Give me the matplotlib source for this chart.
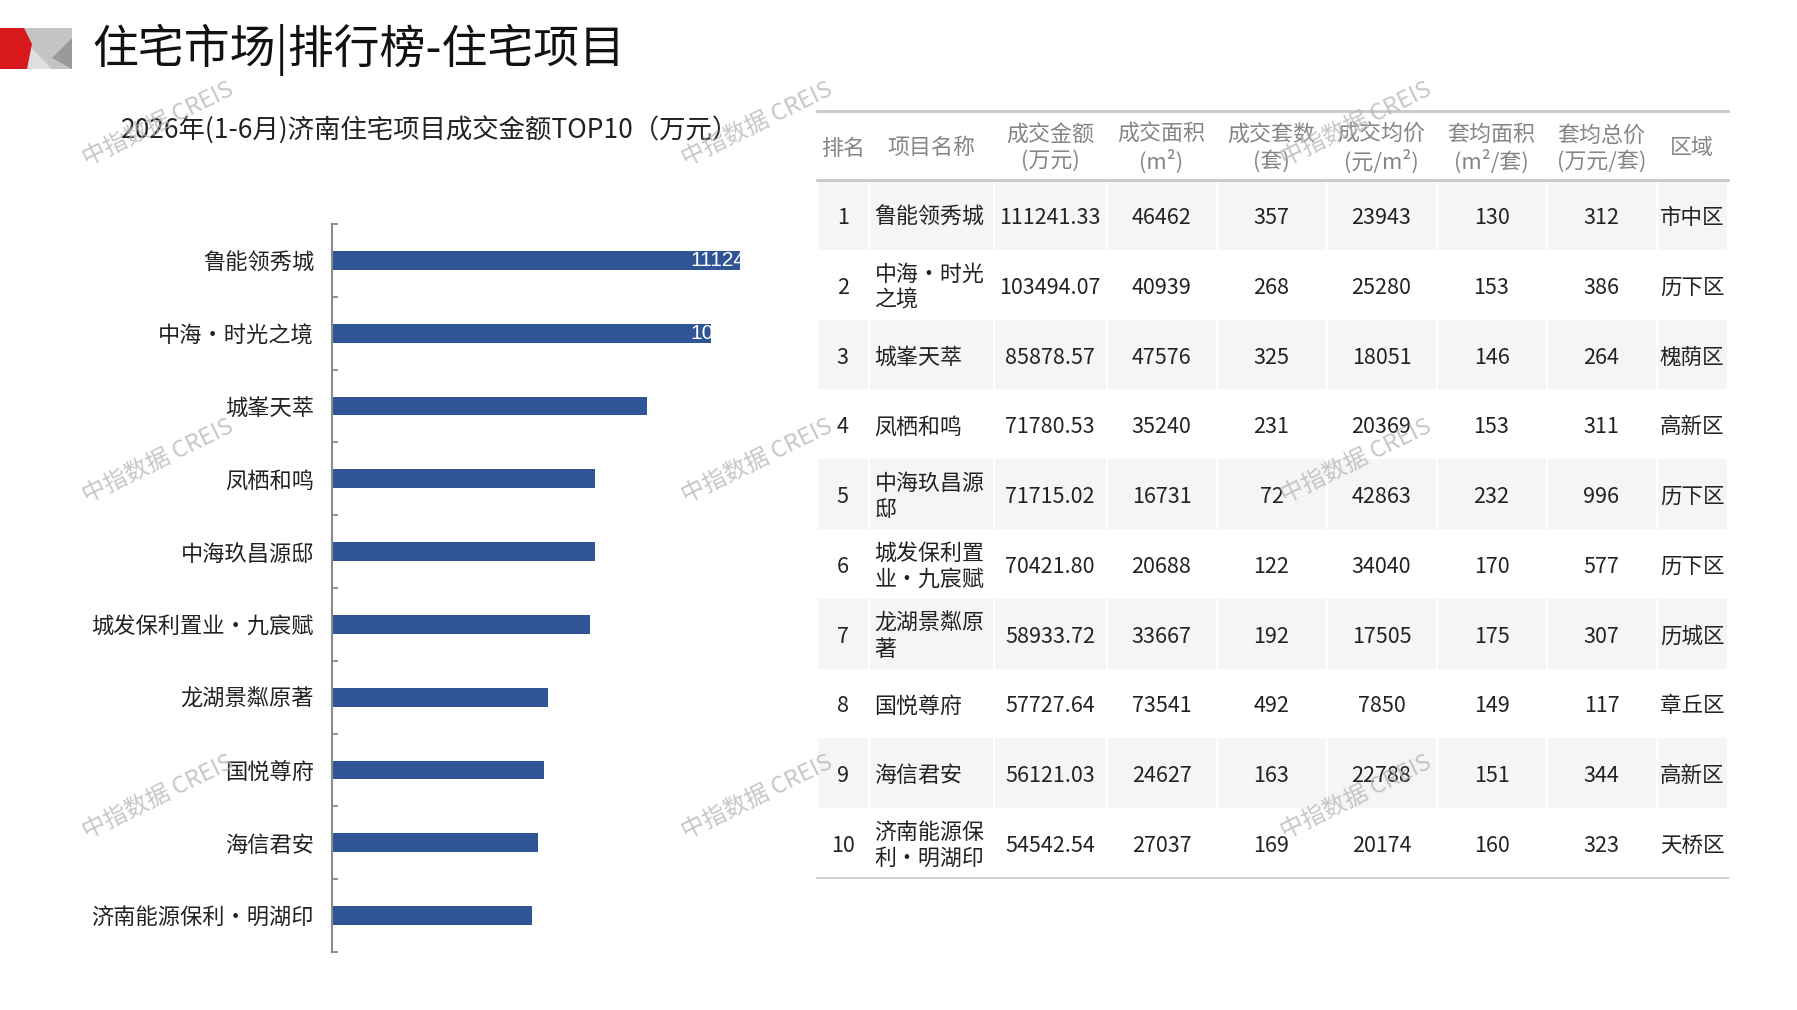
import matplotlib
matplotlib.use("Agg")
import matplotlib.pyplot as plt
from matplotlib.patches import Rectangle, Polygon

plt.rcParams['font.family'] = ['Noto Sans CJK SC', 'DejaVu Sans']

# ---- data ----
names = ["鲁能领秀城", "中海•时光之境", "城峯天萃", "凤栖和鸣", "中海玖昌源邸",
         "城发保利置业•九宸赋", "龙湖景粼原著", "国悦尊府", "海信君安", "济南能源保利•明湖印"]
amount = [111241.33, 103494.07, 85878.57, 71780.53, 71715.02,
          70421.80, 58933.72, 57727.64, 56121.03, 54542.54]
area = [46462, 40939, 47576, 35240, 16731, 20688, 33667, 73541, 24627, 27037]
units = [357, 268, 325, 231, 72, 122, 192, 492, 163, 169]
price = [23943, 25280, 18051, 20369, 42863, 34040, 17505, 7850, 22788, 20174]
avg_area = [130, 153, 146, 153, 232, 170, 175, 149, 151, 160]
avg_total = [312, 386, 264, 311, 996, 577, 307, 117, 344, 323]
district = ["市中区", "历下区", "槐荫区", "高新区", "历下区", "历下区", "历城区", "章丘区", "高新区", "天桥区"]

headers = ["排名", "项目名称", "成交金额\n(万元)", "成交面积\n(m²)", "成交套数\n(套)",
           "成交均价\n(元/m²)", "套均面积\n(m²/套)", "套均总价\n(万元/套)", "区域"]

title = "住宅市场|排行榜-住宅项目"
subtitle = "2026年(1-6月)济南住宅项目成交金额TOP10（万元）"
watermark = "中指数据 CREIS"

W, H = 1797, 1010
fig = plt.figure(figsize=(W / 100, H / 100), dpi=100)
fig.patch.set_facecolor("white")

# background axes in pixel coordinates (top-left origin)
bg = fig.add_axes([0, 0, 1, 1])
bg.set_xlim(0, W)
bg.set_ylim(H, 0)
bg.axis("off")

# logo
bg.add_patch(Polygon([(24, 28), (72, 28), (72, 69), (24, 69)], closed=True, color="#c4c4c4", lw=0))
bg.add_patch(Polygon([(24, 40), (52, 69), (24, 69)], closed=True, color="#dedede", lw=0))
bg.add_patch(Polygon([(72, 38), (52, 58), (72, 69)], closed=True, color="#9a9a9a", lw=0))
bg.add_patch(Polygon([(0, 28), (24, 28), (32, 44), (27, 69), (0, 69)], closed=True, color="#d7191c", lw=0))

bg.text(92, 50, title, fontsize=33, color="#111111", ha="left", va="center")
bg.text(121, 131, subtitle, fontsize=19, color="#222222", ha="left", va="center")

# ---- table ----
col_w = [51.5, 125, 113, 110, 110, 110, 110, 110, 71]
tx0 = 817
col_x = [tx0]
for w in col_w:
    col_x.append(col_x[-1] + w)
head_top, head_bot = 111, 180
row_h = 69.8
dy = 3  # optical centring of text


def wrap(s, n=5):
    return "\n".join(s[i:i + n] for i in range(0, len(s), n))


for i in range(len(names)):
    y0 = head_bot + i * row_h
    if i % 2 == 0:
        for c in range(len(col_w)):
            bg.add_patch(Rectangle((col_x[c] + 1, y0), col_w[c] - 2, row_h,
                                   facecolor="#f4f5f7", edgecolor="none"))
    yc = y0 + row_h / 2 + dy
    cells = [str(i + 1), wrap(names[i]), f"{amount[i]:.2f}", str(area[i]), str(units[i]),
             str(price[i]), str(avg_area[i]), str(avg_total[i]), district[i]]
    for c, txt in enumerate(cells):
        if c == 1:
            bg.text(col_x[c] + 6, yc, txt, fontsize=15.8, color="#222222", ha="left",
                    va="center", linespacing=1.22)
        else:
            bg.text((col_x[c] + col_x[c + 1]) / 2, yc, txt, fontsize=15.5, color="#222222",
                    ha="center", va="center")

for c, txt in enumerate(headers):
    bg.text((col_x[c] + col_x[c + 1]) / 2, (head_top + head_bot) / 2 + dy, txt, fontsize=15.8,
            color="#858585", ha="center", va="center", linespacing=1.2)

bg.plot([col_x[0], col_x[-1]], [head_top, head_top], color="#c8c8c8", lw=2)
bg.plot([col_x[0], col_x[-1]], [head_bot, head_bot], color="#c8c8c8", lw=2)
table_bot = head_bot + len(names) * row_h
bg.plot([col_x[0], col_x[-1]], [table_bot, table_bot], color="#d0d0d0", lw=1.5)

# ---- bar chart ----
ax = fig.add_axes([332 / W, 1 - 952 / H, 440 / W, 728 / H])
ax.set_facecolor("none")
ypos = list(range(len(names)))
bars = ax.barh(ypos, amount, height=0.26, color="#2f5597", zorder=2)
ax.set_xlim(0, 120000)
ax.set_ylim(len(names) - 0.5, -0.5)

for b, v in zip(bars, amount):
    t = ax.text(97800, b.get_y() + b.get_height() / 2, f"{v:.2f}", color="white",
                fontsize=15, family="Liberation Sans", ha="left", va="center", zorder=3)
    t.set_clip_path(b)

ax.set_yticks([k - 0.5 for k in range(len(names) + 1)])
ax.set_yticklabels([])
ax.set_yticks(ypos, minor=True)
ax.set_yticklabels(names, minor=True, fontsize=16, color="#222222")
ax.tick_params(axis="y", which="major", direction="in", length=4, width=1.3, color="#8a8a8a")
ax.tick_params(axis="y", which="minor", length=0, pad=13)
ax.set_xticks([])
for s in ["top", "right", "bottom"]:
    ax.spines[s].set_visible(False)
ax.spines["left"].set_color("#8a8a8a")
ax.spines["left"].set_linewidth(1.5)

# watermarks
for wy in [124, 461, 797]:
    for wx in [158, 757, 1356]:
        fig.text(wx / W, 1 - wy / H, watermark, fontsize=17, color="#b4b4b4", alpha=0.75,
                 rotation=26, ha="center", va="center", zorder=10)

fig.savefig("out.png", dpi=100)
